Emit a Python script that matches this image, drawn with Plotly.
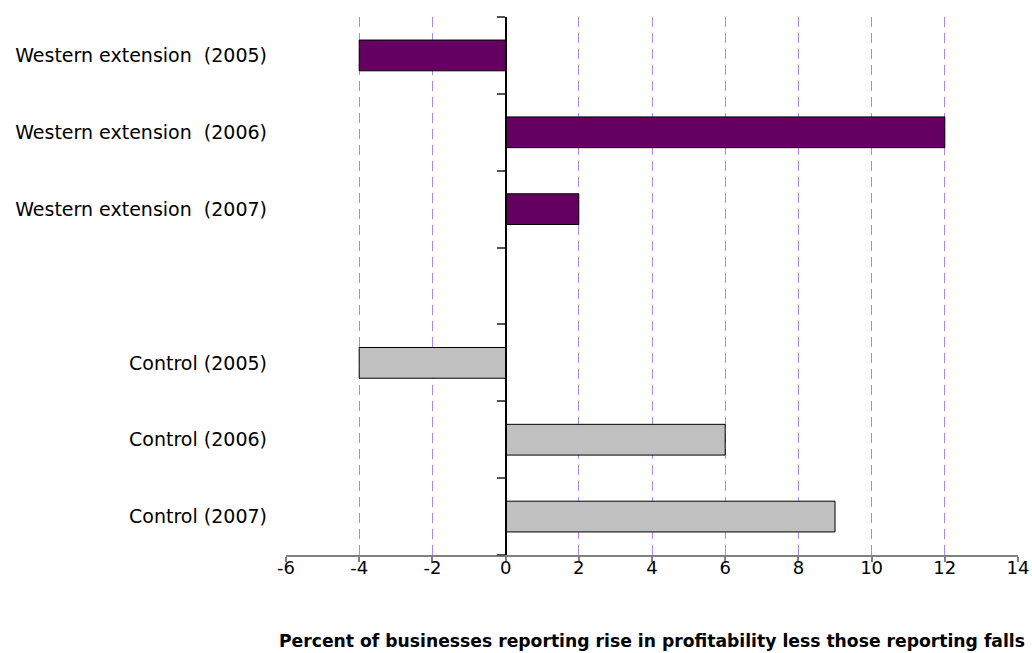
import plotly.graph_objects as go

groups = ["Western extension", "Western extension", "Western extension", "Control", "Control", "Control"]
labels = ["Western extension  (2005)", "Western extension  (2006)", "Western extension  (2007)",
          "Control (2005)", "Control (2006)", "Control (2007)"]
values = [-4, 12, 2, -4, 6, 9]
colors_by_group = {"Western extension": "#640060", "Control": "#c0c0c0"}
spacer = " "
category_order = labels[:3] + [spacer] + labels[3:]
x_ticks = [-6, -4, -2, 0, 2, 4, 6, 8, 10, 12, 14]
x_title = "Percent of businesses reporting rise in profitability less those reporting falls"

font_family = "'DejaVu Sans', sans-serif"

fig = go.Figure()
fig.add_trace(go.Bar(
    x=values, y=labels, orientation="h",
    marker=dict(color=[colors_by_group[g] for g in groups], line=dict(color="black", width=1)),
    width=0.4, showlegend=False,
))
n = len(category_order)
fig.add_trace(go.Scatter(x=[0], y=[0], yaxis="y2", mode="markers", marker=dict(opacity=0),
                         showlegend=False, hoverinfo="skip"))

fig.update_layout(
    width=1032, height=653,
    margin=dict(l=286, r=14, t=17, b=98),
    plot_bgcolor="white", paper_bgcolor="white",
    font=dict(family=font_family, color="black"),
    xaxis=dict(
        range=[x_ticks[0], x_ticks[-1]], tickvals=x_ticks, ticktext=[str(v) for v in x_ticks],
        showgrid=True, gridcolor="#a888ff", griddash="10px,6px", gridwidth=1,
        zeroline=False, showline=True, linecolor="#808080", linewidth=2,
        ticks="outside", ticklen=5, tickcolor="#808080", tickwidth=2,
        tickfont=dict(size=18, family=font_family), ticklabelstandoff=-10,
        title=dict(text="<b>" + x_title + "</b>", font=dict(size=17.2, family=font_family), standoff=58),
        automargin=False,
    ),
    yaxis=dict(
        type="category", categoryarray=category_order, categoryorder="array",
        range=[n - 0.5, -0.5], showgrid=False, zeroline=False, showline=False,
        ticks="", tickfont=dict(size=19, family=font_family), ticklabelstandoff=18,
        automargin=False,
    ),
    yaxis2=dict(
        overlaying="y", anchor="free", position=(0 - x_ticks[0]) / (x_ticks[-1] - x_ticks[0]),
        range=[n - 0.5, -0.5], tickvals=[i - 0.5 for i in range(n + 1)],
        showticklabels=False, showgrid=False, zeroline=False,
        showline=True, linecolor="black", linewidth=1.5,
        ticks="outside", ticklen=8, tickcolor="#555555", tickwidth=1.5,
        automargin=False,
    ),
)

fig.write_html("out.html", config={"displayModeBar": False},
               post_script="document.body.style.margin='0';document.body.style.overflow='hidden';")
